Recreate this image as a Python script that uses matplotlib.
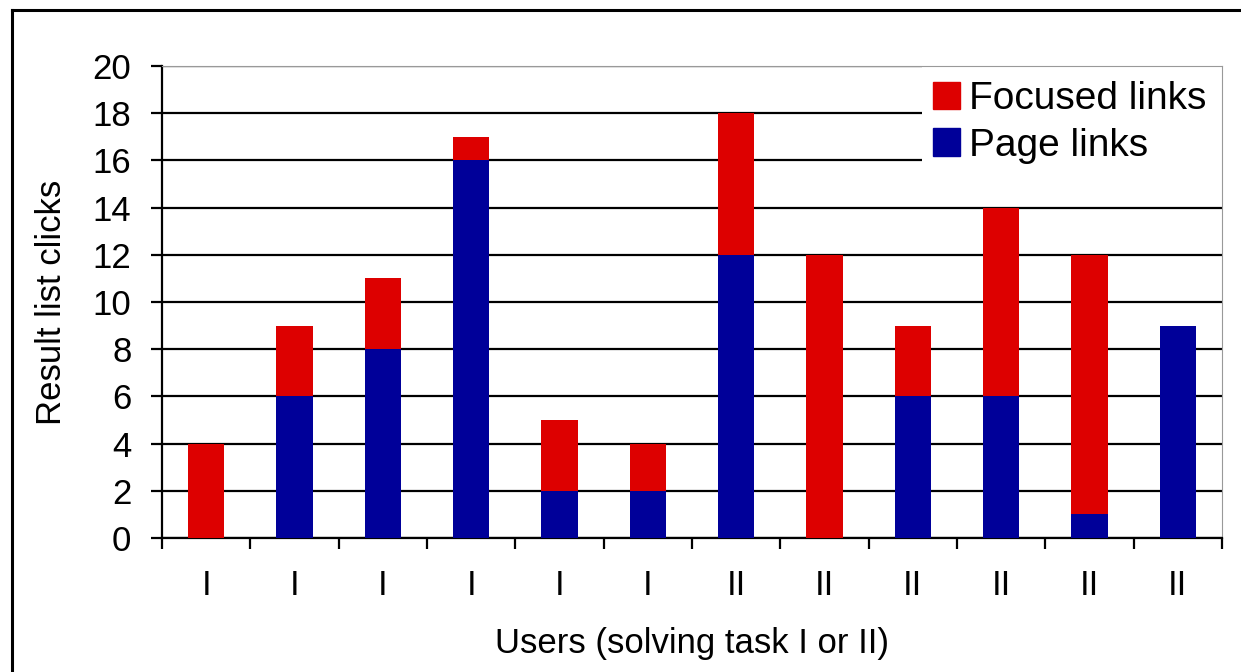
import numpy as np
import matplotlib.pyplot as plt
from matplotlib.lines import Line2D
from matplotlib.patches import Patch, Rectangle

plt.rcParams['font.family'] = ['Liberation Sans', 'DejaVu Sans']

# data
tasks = ['I', 'I', 'I', 'I', 'I', 'I', 'II', 'II', 'II', 'II', 'II', 'II']
page_links = [0, 6, 8, 16, 2, 2, 12, 0, 6, 6, 1, 9]
focused_links = [4, 3, 3, 1, 3, 2, 6, 12, 3, 8, 11, 0]

red = '#dd0000'
blue = '#000099'

fig = plt.figure(figsize=(12.41, 6.72), dpi=100)
ax = fig.add_axes([0.1305, 0.1994, 0.8542, 0.7024])

x = np.arange(len(tasks))
ax.bar(x, page_links, width=0.41, color=blue, zorder=3)
ax.bar(x, focused_links, width=0.41, bottom=page_links, color=red, zorder=3)

ax.set_xlim(-0.5, len(tasks) - 0.5)
ax.set_ylim(0, 20)
ax.set_yticks(range(0, 21, 2))
ax.set_axisbelow(True)
ax.yaxis.grid(True, color='black', linewidth=1.6)

# category ticks on the boundaries, labels in the centres
ax.set_xticks(np.arange(-0.5, len(tasks), 1.0))
ax.set_xticklabels([])
ax.set_xticks(x, minor=True)
ax.set_xticklabels(tasks, minor=True)
ax.tick_params(axis='x', which='minor', length=0, pad=22, labelsize=25)
ax.tick_params(axis='x', which='major', length=8, width=1.6, direction='out')
ax.tick_params(axis='y', length=8, width=1.6, direction='out', labelsize=25, pad=14)

for side in ['left', 'bottom']:
    ax.spines[side].set_linewidth(1.6)
ax.spines['top'].set_color('#999999')
ax.spines['right'].set_color('#999999')

ax.set_ylabel('Result list clicks', fontsize=25, labelpad=18)
ax.set_xlabel('Users (solving task I or II)', fontsize=25, labelpad=18)

# legend panel: white area hiding the grid in the top right corner
ax.add_patch(Rectangle((0.717, 0.706), 0.283, 0.294, transform=ax.transAxes,
                       facecolor='white', edgecolor='none', zorder=2))
handles = [Patch(color=red), Patch(color=blue)]
leg = ax.legend(handles, ['Focused links', 'Page links'], loc='upper left',
                bbox_to_anchor=(0.713, 1.0), fontsize=28, frameon=False,
                borderaxespad=0, handlelength=0.7, handleheight=0.7,
                handletextpad=0.25, borderpad=0.38, labelspacing=0.28)
leg.set_zorder(5)

# outer frame (left and top edges visible)
fig.add_artist(Line2D([12 / 1241, 12 / 1241], [0, 1 - 10 / 672], color='black', lw=2.2))
fig.add_artist(Line2D([12 / 1241, 1], [1 - 10 / 672, 1 - 10 / 672], color='black', lw=2.2))

fig.savefig('out.png', dpi=100)
